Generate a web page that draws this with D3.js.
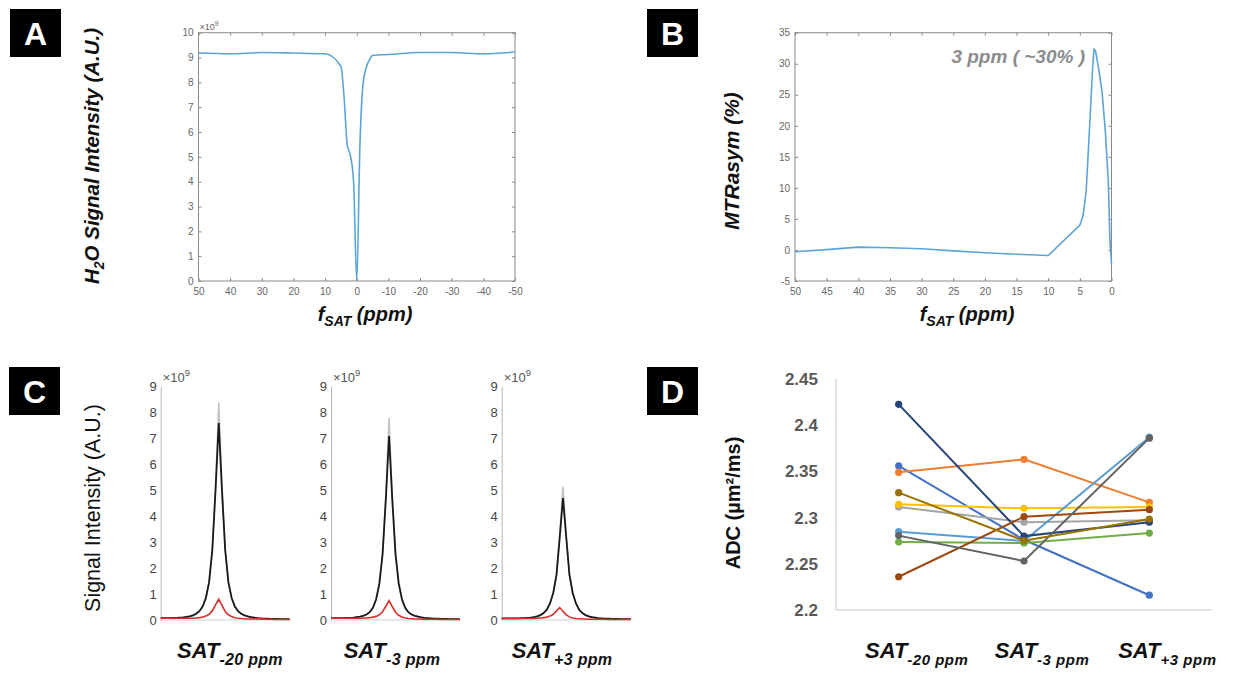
<!DOCTYPE html>
<html><head><meta charset="utf-8">
<script src="https://cdn.jsdelivr.net/npm/d3@7"></script>
<style>body{margin:0;background:#fff} svg{display:block}</style>
</head><body>
<svg id="fig" width="1238" height="673"></svg>
<script>
const FONT = "'Liberation Sans', Arial, Helvetica, sans-serif";

// ---------- Panel A : Z-spectrum ----------
const aPpm    = [50, 40, 30, 20, 10, 5, 4, 3, 2, 1, 0, -1, -2, -3, -4, -5, -10, -20, -30, -40, -50];
const aSignal = [9.18, 9.15, 9.2, 9.18, 9.15, 8.65, 7.4, 5.48, 5.05, 4.0, 0, 5.45, 7.95, 8.6, 8.9, 9.08, 9.12, 9.2, 9.2, 9.15, 9.22];
const aXTicks = [50, 40, 30, 20, 10, 0, -10, -20, -30, -40, -50];
const aYTicks = [0, 1, 2, 3, 4, 5, 6, 7, 8, 9, 10];

// ---------- Panel B : MTRasym ----------
const bPpm = [50, 45, 40, 35, 30, 25, 20, 15, 10, 5, 4.5, 4, 3.5, 3, 2.75, 2.5, 2, 1.5, 1, 0.5, 0.25, 0];
const bMtr = [-0.3, 0.05, 0.45, 0.35, 0.2, -0.15, -0.45, -0.7, -0.9, 4.0, 5.5, 9.5, 19, 29, 32.4, 32, 29, 25.5, 19.5, 11, 1.5, -2.3];
const bXTicks = [50, 45, 40, 35, 30, 25, 20, 15, 10, 5, 0];
const bYTicks = [-5, 0, 5, 10, 15, 20, 25, 30, 35];

// ---------- Panel C : spectra ----------
const cIndex = [0,1,2,3,4,5,6,7,8,9,10,11,12,13,14,15,16,17,18,19,20,21,22,23,24,25,26,27,28,29,30,31,32,33,34,35,36,37,38,39,40];
const cBlack1 = [0.07,0.07,0.07,0.07,0.08,0.08,0.09,0.1,0.12,0.14,0.18,0.24,0.34,0.52,0.85,1.45,2.7,5.0,7.6,5.0,2.7,1.45,0.85,0.52,0.34,0.24,0.18,0.14,0.11,0.09,0.07,0.06,0.05,0.05,0.04,0.04,0.04,0.03,0.03,0.03,0.03];
const cGrey1  = [0.07,0.07,0.07,0.07,0.08,0.08,0.09,0.1,0.12,0.14,0.18,0.24,0.34,0.52,0.85,1.45,2.7,5.1,8.4,5.1,2.7,1.45,0.85,0.52,0.34,0.24,0.18,0.14,0.11,0.09,0.07,0.06,0.05,0.05,0.04,0.04,0.04,0.03,0.03,0.03,0.03];
const cRed1   = [0.07,0.07,0.07,0.07,0.07,0.07,0.07,0.07,0.07,0.07,0.07,0.08,0.09,0.11,0.15,0.22,0.35,0.58,0.8,0.56,0.33,0.2,0.13,0.09,0.07,0.06,0.05,0.04,0.04,0.04,0.04,0.05,0.04,0.03,0.03,0.02,0.02,0.02,0.02,0.02,0.02];
const cBlack2 = [0.07,0.07,0.07,0.07,0.07,0.08,0.08,0.09,0.11,0.13,0.16,0.21,0.3,0.47,0.8,1.4,2.55,4.65,7.1,4.65,2.55,1.4,0.8,0.47,0.3,0.21,0.16,0.13,0.1,0.08,0.07,0.06,0.05,0.05,0.04,0.04,0.04,0.03,0.03,0.03,0.03];
const cGrey2  = [0.07,0.07,0.07,0.07,0.07,0.08,0.08,0.09,0.11,0.13,0.16,0.21,0.3,0.47,0.8,1.4,2.55,4.75,7.8,4.75,2.55,1.4,0.8,0.47,0.3,0.21,0.16,0.13,0.1,0.08,0.07,0.06,0.05,0.05,0.04,0.04,0.04,0.03,0.03,0.03,0.03];
const cRed2   = [0.07,0.07,0.07,0.07,0.07,0.07,0.07,0.07,0.07,0.07,0.07,0.08,0.09,0.11,0.14,0.2,0.32,0.53,0.75,0.52,0.3,0.18,0.12,0.08,0.06,0.05,0.04,0.04,0.03,0.03,0.03,0.03,0.03,0.03,0.02,0.02,0.02,0.02,0.02,0.02,0.02];
const cBlack3 = [0.06,0.06,0.06,0.06,0.06,0.06,0.07,0.07,0.08,0.09,0.11,0.14,0.19,0.27,0.4,0.65,1.05,1.75,3.2,4.7,3.2,1.75,1.05,0.65,0.4,0.27,0.19,0.14,0.11,0.09,0.07,0.06,0.05,0.05,0.04,0.04,0.04,0.03,0.03,0.03,0.03];
const cGrey3  = [0.06,0.06,0.06,0.06,0.06,0.06,0.07,0.07,0.08,0.09,0.11,0.14,0.19,0.27,0.4,0.65,1.05,1.75,3.3,5.15,3.3,1.75,1.05,0.65,0.4,0.27,0.19,0.14,0.11,0.09,0.07,0.06,0.05,0.05,0.04,0.04,0.04,0.03,0.03,0.03,0.03];
const cRed3   = [0.06,0.06,0.06,0.06,0.06,0.06,0.06,0.06,0.06,0.06,0.06,0.07,0.08,0.09,0.11,0.15,0.22,0.35,0.48,0.34,0.2,0.12,0.08,0.06,0.05,0.04,0.04,0.03,0.03,0.03,0.03,0.03,0.03,0.02,0.02,0.02,0.02,0.02,0.02,0.02,0.02];
const cYTicks = [0, 1, 2, 3, 4, 5, 6, 7, 8, 9];
const cLabelMain = ["SAT", "SAT", "SAT"];
const cLabelSub  = ["-20 ppm", "-3 ppm", "+3 ppm"];

// ---------- Panel D : ADC ----------
const dCategories = ["SAT-20", "SAT-3", "SAT+3"];
const dLabelMain = ["SAT", "SAT", "SAT"];
const dLabelSub  = ["-20 ppm", "-3 ppm", "+3 ppm"];
const dYTicks = [2.2, 2.25, 2.3, 2.35, 2.4, 2.45];
const dYTickLabels = ["2.2", "2.25", "2.3", "2.35", "2.4", "2.45"];
const dS1  = [2.356, 2.276, 2.216];
const dS2  = [2.349, 2.363, 2.3165];
const dS3  = [2.3115, 2.295, 2.297];
const dS4  = [2.3144, 2.310, 2.3115];
const dS5  = [2.2848, 2.2747, 2.387];
const dS6  = [2.2736, 2.2725, 2.2833];
const dS7  = [2.4226, 2.280, 2.295];
const dS8  = [2.236, 2.301, 2.3086];
const dS9  = [2.2805, 2.253, 2.386];
const dS10 = [2.327, 2.275, 2.2985];
const dSeriesList = [dS1, dS2, dS3, dS4, dS5, dS6, dS7, dS8, dS9, dS10];
const dColors = ["#4472C4", "#ED7D31", "#A5A5A5", "#FFC000", "#5B9BD5", "#70AD47", "#264478", "#9E480E", "#636363", "#997300"];

// =====================================================
const svg = d3.select("#fig").attr("font-family", FONT);
svg.append("rect").attr("width", 1238).attr("height", 673).attr("fill", "#fff");

function letterBox(x, y, t) {
  const g = svg.append("g");
  g.append("rect").attr("x", x).attr("y", y).attr("width", 51).attr("height", 48).attr("fill", "#000");
  g.append("text").attr("x", x + 25.5).attr("y", y + 36).attr("text-anchor", "middle")
    .attr("font-size", 32).attr("font-weight", "bold").attr("fill", "#fff").text(t);
}
letterBox(10, 9, "A");
letterBox(647, 9, "B");
letterBox(9, 367, "C");
letterBox(647, 367, "D");

function matlabAxes(x, y, xt, yt) {
  const [x0, x1] = x.range();
  const [yb, yt0] = y.range();
  const g = svg.append("g");
  g.append("g").attr("transform", `translate(0,${yb})`)
    .call(d3.axisBottom(x).tickValues(xt).tickSize(-3).tickPadding(7).tickFormat(d => String(d)));
  g.append("g").attr("transform", `translate(0,${yt0})`)
    .call(d3.axisTop(x).tickValues(xt).tickSize(-3).tickFormat(""));
  g.append("g").attr("transform", `translate(${x0},0)`)
    .call(d3.axisLeft(y).tickValues(yt).tickSize(-3).tickPadding(5).tickFormat(d => String(d)));
  g.append("g").attr("transform", `translate(${x1},0)`)
    .call(d3.axisRight(y).tickValues(yt).tickSize(-3).tickFormat(""));
  g.selectAll(".domain").remove();
  g.selectAll(".tick line").attr("stroke", "#8a8a8a");
  g.selectAll(".tick text").attr("font-size", 10).attr("fill", "#666").attr("font-family", FONT);
  g.append("rect").attr("x", x0).attr("y", yt0).attr("width", x1 - x0).attr("height", yb - yt0)
    .attr("fill", "none").attr("stroke", "#8a8a8a").attr("stroke-width", 1);
  return g;
}

function fsatLabel(cx, baseline) {
  const t = svg.append("text").attr("x", cx).attr("y", baseline).attr("text-anchor", "middle")
    .attr("font-weight", "bold").attr("font-style", "italic").attr("font-size", 20).attr("fill", "#111");
  t.append("tspan").text("f");
  t.append("tspan").attr("font-size", 14).attr("dy", 5).text("SAT");
  t.append("tspan").attr("dy", -5).text(" (ppm)");
}

const lineBlue = "#5aa5d8";

// ---------- Panel A ----------
{
  const x = d3.scaleLinear().domain([50, -50]).range([198.5, 515]);
  const y = d3.scaleLinear().domain([0, 10]).range([281, 32.7]);
  matlabAxes(x, y, aXTicks, aYTicks);
  const pts = aPpm.map((p, i) => [p, aSignal[i]]);
  svg.append("path").datum(pts)
    .attr("d", d3.line().x(d => x(d[0])).y(d => y(d[1])).curve(d3.curveMonotoneX))
    .attr("fill", "none").attr("stroke", lineBlue).attr("stroke-width", 1.6);
  const e = svg.append("text").attr("x", 199.5).attr("y", 29.5).attr("font-size", 9).attr("fill", "#666");
  e.append("tspan").text("×10");
  e.append("tspan").attr("font-size", 7).attr("dy", -4).text("9");
  const yl = svg.append("text").attr("transform", "translate(99,156) rotate(-90)").attr("text-anchor", "middle")
    .attr("font-weight", "bold").attr("font-style", "italic").attr("font-size", 20.5).attr("fill", "#111");
  yl.append("tspan").text("H");
  yl.append("tspan").attr("font-size", 14).attr("dy", 5).text("2");
  yl.append("tspan").attr("dy", -5).text("O Signal Intensity (A.U.)");
  fsatLabel(365, 321);
}

// ---------- Panel B ----------
{
  const x = d3.scaleLinear().domain([50, 0]).range([795, 1111.5]);
  const y = d3.scaleLinear().domain([-5, 35]).range([281, 32.7]);
  matlabAxes(x, y, bXTicks, bYTicks);
  const pts = bPpm.map((p, i) => [p, bMtr[i]]);
  svg.append("path").datum(pts)
    .attr("d", d3.line().x(d => x(d[0])).y(d => y(d[1])))
    .attr("fill", "none").attr("stroke", lineBlue).attr("stroke-width", 1.6).attr("stroke-linejoin", "round");
  svg.append("text").attr("x", 1085).attr("y", 63).attr("text-anchor", "end")
    .attr("font-weight", "bold").attr("font-style", "italic").attr("font-size", 19).attr("fill", "#8c8c8c")
    .text("3 ppm ( ~30% )");
  svg.append("text").attr("transform", "translate(739,161) rotate(-90)").attr("text-anchor", "middle")
    .attr("font-weight", "bold").attr("font-style", "italic").attr("font-size", 21).attr("fill", "#111")
    .text("MTRasym (%)");
  fsatLabel(967, 321);
}

// ---------- Panel C ----------
{
  const cx0 = [160.7, 331, 501.7];
  const labelCx = [230, 392, 562];
  const blacks = [cBlack1, cBlack2, cBlack3];
  const greys = [cGrey1, cGrey2, cGrey3];
  const reds = [cRed1, cRed2, cRed3];
  const y = d3.scaleLinear().domain([0, 9]).range([620, 386.7]);
  for (let i = 0; i < 3; i++) {
    const x = d3.scaleLinear().domain([0, 40]).range([cx0[i], cx0[i] + 129]);
    const g = svg.append("g");
    g.append("line").attr("x1", cx0[i]).attr("x2", cx0[i] + 129).attr("y1", y(0)).attr("y2", y(0))
      .attr("stroke", "#cfcfcf").attr("stroke-width", 1.2);
    const ax = g.append("g").attr("transform", `translate(${cx0[i]},0)`)
      .call(d3.axisLeft(y).tickValues(cYTicks).tickSize(0).tickPadding(4).tickFormat(d => String(d)));
    ax.select(".domain").attr("stroke", "#b5b5b5");
    ax.selectAll(".tick text").attr("font-size", 13).attr("fill", "#444").attr("font-family", FONT);
    const e = g.append("text").attr("x", cx0[i] + 2).attr("y", 382).attr("font-size", 13).attr("fill", "#555");
    e.append("tspan").text("×10");
    e.append("tspan").attr("font-size", 9.5).attr("dy", -6).text("9");
    const ln = d3.line().x((d, k) => x(cIndex[k])).y(d => y(d));
    g.append("path").datum(greys[i]).attr("d", ln).attr("fill", "none").attr("stroke", "#c4c4c4").attr("stroke-width", 1.6);
    g.append("path").datum(blacks[i]).attr("d", ln).attr("fill", "none").attr("stroke", "#1a1a1a").attr("stroke-width", 1.8);
    g.append("path").datum(reds[i]).attr("d", ln).attr("fill", "none").attr("stroke", "#d9302c").attr("stroke-width", 1.6);
    const lbl = g.append("text").attr("x", labelCx[i]).attr("y", 658).attr("text-anchor", "middle")
      .attr("font-weight", "bold").attr("font-style", "italic").attr("font-size", 22).attr("fill", "#111");
    lbl.append("tspan").text(cLabelMain[i]);
    lbl.append("tspan").attr("font-size", 16).attr("dy", 7).attr("letter-spacing", 0.3).text(cLabelSub[i]);
  }
  svg.append("text").attr("transform", "translate(100,508) rotate(-90)").attr("text-anchor", "middle")
    .attr("font-size", 21.5).attr("fill", "#111").text("Signal Intensity (A.U.)");
}

// ---------- Panel D ----------
{
  const x = d3.scalePoint().domain(dCategories).range([836, 1212]).padding(0.5);
  const y = d3.scaleLinear().domain([2.2, 2.45]).range([610, 379]);
  const g = svg.append("g");
  g.append("line").attr("x1", 836).attr("x2", 836).attr("y1", 379).attr("y2", 610).attr("stroke", "#d9d9d9").attr("stroke-width", 1.5);
  g.append("line").attr("x1", 836).attr("x2", 1212).attr("y1", 610).attr("y2", 610).attr("stroke", "#d9d9d9").attr("stroke-width", 1.5);
  const ya = g.append("g").attr("transform", "translate(836,0)")
    .call(d3.axisLeft(y).tickValues(dYTicks).tickSize(0).tickPadding(18).tickFormat((d, i) => dYTickLabels[i]));
  ya.select(".domain").remove();
  ya.selectAll(".tick text").attr("font-size", 17).attr("font-weight", "bold").attr("fill", "#595959").attr("font-family", FONT);
  dSeriesList.forEach((s, si) => {
    const pts = dCategories.map((c, k) => [c, s[k]]);
    g.append("path").datum(pts).attr("d", d3.line().x(d => x(d[0])).y(d => y(d[1])))
      .attr("fill", "none").attr("stroke", dColors[si]).attr("stroke-width", 2);
    g.selectAll(null).data(pts).enter().append("circle")
      .attr("cx", d => x(d[0])).attr("cy", d => y(d[1])).attr("r", 3.6).attr("fill", dColors[si]);
  });
  dCategories.forEach((c, i) => {
    const lbl = g.append("text").attr("x", x(c) + 18).attr("y", 658).attr("text-anchor", "middle")
      .attr("font-weight", "bold").attr("font-style", "italic").attr("font-size", 22).attr("fill", "#111");
    lbl.append("tspan").text(dLabelMain[i]);
    lbl.append("tspan").attr("font-size", 15).attr("dy", 7).attr("letter-spacing", 0.5).text(dLabelSub[i]);
  });
  svg.append("text").attr("transform", "translate(740,503) rotate(-90)").attr("text-anchor", "middle")
    .attr("font-size", 20).attr("font-weight", "bold").attr("fill", "#111").text("ADC (µm²/ms)");
}
</script>
</body></html>
